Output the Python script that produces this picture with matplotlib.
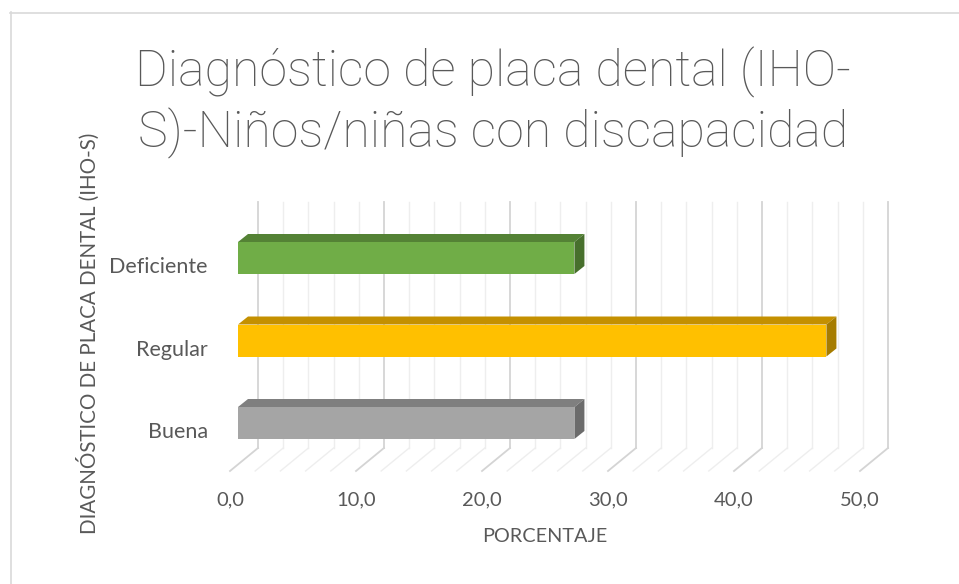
import matplotlib
matplotlib.use("Agg")
import matplotlib.pyplot as plt
from matplotlib.lines import Line2D

# ---- data ----
categories = ["Buena", "Regular", "Deficiente"]
values = [26.7, 46.7, 26.7]
tick_values = [0, 10, 20, 30, 40, 50]
tick_labels = ["0,0", "10,0", "20,0", "30,0", "40,0", "50,0"]
title = "Diagnóstico de placa dental (IHO-\nS)-Niños/niñas con discapacidad"
xlabel = "PORCENTAJE"
ylabel = "DIAGNÓSTICO DE PLACA DENTAL (IHO-S)"

# ---- styles ----
front_colors = ["#A5A5A5", "#FFC000", "#70AD47"]
top_colors = ["#7F7F7F", "#C49000", "#548235"]
side_colors = ["#6B6B6B", "#A67C00", "#476F2C"]
text_color = "#595959"
FONT = ["Lato", "DejaVu Sans"]
TITLE_FONT = ["Roboto", "Lato", "DejaVu Sans"]

W, H = 959, 584
fig = plt.figure(figsize=(W / 100, H / 100), dpi=100)
ax = fig.add_axes([0, 0, 1, 1])
ax.set_axis_off()

# geometry (pixel calibration)
x0_px, x50_px = 230, 860
PX = 50 / (x50_px - x0_px)          # data units per pixel (x)
PY = 1 / 82.5                       # data units per pixel (y)
base_px = H - 423                   # pixel (from bottom) of first category
ax.set_xlim(-x0_px * PX, (W - x0_px) * PX)
ax.set_ylim(-base_px * PY, (H - base_px) * PY)

def ydat(py_top):
    return (H - py_top - base_px) * PY

wall_dx = 28 * PX
floor_front = ydat(471)
floor_back = ydat(448)
wall_top = ydat(202)

# back wall + floor grid
for g in range(0, 51, 2):
    major = g % 10 == 0
    c = "#D4D4D4" if major else "#EEEEEE"
    lw = 1.3 if major else 1.0
    ax.plot([g + wall_dx, g + wall_dx], [floor_back, wall_top], color=c, lw=lw, zorder=1)
    ax.plot([g + wall_dx, g], [floor_back, floor_front], color=c, lw=lw, zorder=1)

# 3D bars
bx0 = 8 * PX
half = 16 * PY
ddx = 10 * PX
ddy = 8 * PY
for i, v in enumerate(values):
    c = i
    ax.fill([bx0, bx0 + v, bx0 + v, bx0], [c - half, c - half, c + half, c + half],
            color=front_colors[i], lw=0, zorder=3)
    ax.fill([bx0, bx0 + v, bx0 + v + ddx, bx0 + ddx],
            [c + half, c + half, c + half + ddy, c + half + ddy],
            color=top_colors[i], lw=0, zorder=3)
    ax.fill([bx0 + v, bx0 + v + ddx, bx0 + v + ddx, bx0 + v],
            [c - half, c - half + ddy, c + half + ddy, c + half],
            color=side_colors[i], lw=0, zorder=3)
    ax.text(-22 * PX, c - 9 * PY, categories[i], ha="right", va="center",
            fontsize=15.5, color=text_color, family=FONT)

# tick labels
for v, lab in zip(tick_values, tick_labels):
    ax.text(v, ydat(500), lab, ha="center", va="center", fontsize=14.5,
            color=text_color, family=FONT)

ax.text((545 - x0_px) * PX, ydat(537), xlabel, ha="center", va="center",
        fontsize=14.3, color=text_color, family=FONT)
ax.text((88 - x0_px) * PX, ydat(333), ylabel, ha="center", va="center",
        rotation=90, fontsize=14.8, color=text_color, family=FONT)

fig.text(493 / W, 1 - 103 / H, title, ha="center", va="center", fontsize=36,
         color=text_color, family=TITLE_FONT, fontweight="light", linespacing=1.24)

# chart border
fig.add_artist(Line2D([10.5 / W, 10.5 / W], [0, 1 - 12 / H], transform=fig.transFigure,
                      color="#D9D9D9", lw=1.2))
fig.add_artist(Line2D([10 / W, 1], [1 - 12.5 / H, 1 - 12.5 / H], transform=fig.transFigure,
                      color="#D9D9D9", lw=1.2))

fig.savefig("out.png", dpi=100, facecolor="white")
